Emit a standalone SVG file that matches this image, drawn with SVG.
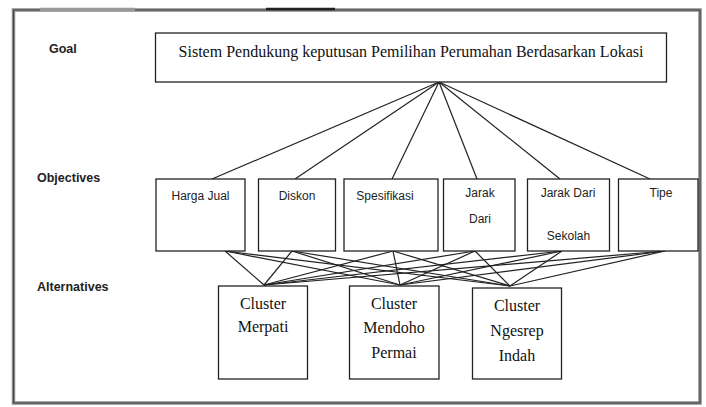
<svg xmlns="http://www.w3.org/2000/svg" width="706" height="407" viewBox="0 0 706 407">
<style>
.box{fill:#fff;stroke:#222;stroke-width:1.3}
.lbl{font-family:"Liberation Sans",Arial,sans-serif;font-size:12.5px;font-weight:bold;fill:#222}
.obj{font-family:"Liberation Sans",Arial,sans-serif;font-size:12px;fill:#222;text-anchor:middle}
.ser{font-family:"Liberation Serif","Times New Roman",serif;font-size:16px;fill:#111;text-anchor:middle}
.con line{stroke:#222;stroke-width:1.2}
</style>
<rect width="706" height="407" fill="#fff"/>
<g id="frame">
<rect x="13.5" y="10" width="686.5" height="393" fill="none" stroke="#8a8a8a" stroke-width="3.5"/>
<rect x="13.5" y="10" width="686.5" height="393" fill="none" stroke="#444" stroke-width="1"/>
<line x1="40" y1="9.5" x2="135" y2="9.5" stroke="#999" stroke-width="3.5"/>
<line x1="266" y1="9" x2="335" y2="9" stroke="#222" stroke-width="2.5"/>
</g>
<g id="labels">
<text class="lbl" x="49" y="53">Goal</text>
<text class="lbl" x="37" y="182">Objectives</text>
<text class="lbl" x="37" y="291">Alternatives</text>
</g>
<g id="connectors" class="con">
<line x1="439" y1="82" x2="212" y2="179"/>
<line x1="439" y1="82" x2="295" y2="179"/>
<line x1="439" y1="82" x2="392" y2="179"/>
<line x1="439" y1="82" x2="477" y2="179"/>
<line x1="439" y1="82" x2="560" y2="179"/>
<line x1="439" y1="82" x2="650" y2="179"/>
<line x1="225" y1="251" x2="264" y2="285"/>
<line x1="225" y1="251" x2="400" y2="285"/>
<line x1="225" y1="251" x2="510" y2="286"/>
<line x1="292" y1="251" x2="264" y2="285"/>
<line x1="292" y1="251" x2="400" y2="285"/>
<line x1="292" y1="251" x2="510" y2="286"/>
<line x1="393" y1="251" x2="264" y2="285"/>
<line x1="393" y1="251" x2="400" y2="285"/>
<line x1="393" y1="251" x2="510" y2="286"/>
<line x1="475" y1="251" x2="264" y2="285"/>
<line x1="475" y1="251" x2="400" y2="285"/>
<line x1="475" y1="251" x2="510" y2="286"/>
<line x1="562" y1="251" x2="264" y2="285"/>
<line x1="562" y1="251" x2="400" y2="285"/>
<line x1="562" y1="251" x2="510" y2="286"/>
<line x1="665" y1="251" x2="264" y2="285"/>
<line x1="665" y1="251" x2="400" y2="285"/>
<line x1="665" y1="251" x2="510" y2="286"/>
</g>
<g id="goal">
<rect class="box" x="155.5" y="33" width="511" height="49"/>
<text class="ser" x="411" y="57">Sistem Pendukung keputusan Pemilihan Perumahan Berdasarkan Lokasi</text>
</g>
<g id="obj-harga">
<rect class="box" x="156" y="179" width="89" height="72"/>
<text class="obj" x="200.5" y="200">Harga Jual</text>
</g>
<g id="obj-diskon">
<rect class="box" x="258.5" y="179" width="77" height="72"/>
<text class="obj" x="297" y="200">Diskon</text>
</g>
<g id="obj-spesifikasi">
<rect class="box" x="344" y="179" width="94" height="72"/>
<text class="obj" x="385" y="200">Spesifikasi</text>
</g>
<g id="obj-jarak">
<rect class="box" x="443.5" y="179" width="71.5" height="72"/>
<text class="obj" x="480" y="197">Jarak</text>
<text class="obj" x="480" y="223">Dari</text>
</g>
<g id="obj-jarak-sekolah">
<rect class="box" x="527.5" y="179" width="82" height="72"/>
<text class="obj" x="568" y="197">Jarak Dari</text>
<text class="obj" x="568.5" y="240">Sekolah</text>
</g>
<g id="obj-tipe">
<rect class="box" x="618.5" y="179" width="79.5" height="72"/>
<text class="obj" x="661" y="197">Tipe</text>
</g>
<g id="alt-merpati">
<rect class="box" x="218.5" y="286" width="89" height="93"/>
<text class="ser" x="263" y="309">Cluster</text>
<text class="ser" x="263" y="332">Merpati</text>
</g>
<g id="alt-mendoho">
<rect class="box" x="349.5" y="286" width="89.5" height="93"/>
<text class="ser" x="394" y="309">Cluster</text>
<text class="ser" x="394" y="333">Mendoho</text>
<text class="ser" x="394" y="358">Permai</text>
</g>
<g id="alt-ngesrep">
<rect class="box" x="472.5" y="288" width="89" height="91"/>
<text class="ser" x="517" y="311">Cluster</text>
<text class="ser" x="517" y="336">Ngesrep</text>
<text class="ser" x="517" y="361">Indah</text>
</g>
</svg>
